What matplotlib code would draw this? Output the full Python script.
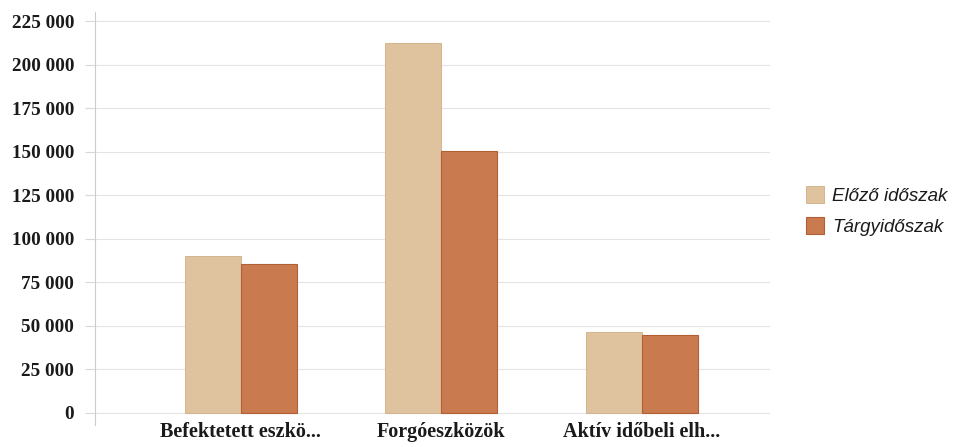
import numpy as np
import matplotlib
matplotlib.use("Agg")
import matplotlib.pyplot as plt
from matplotlib.ticker import FuncFormatter

categories = ["Befektetett eszkö...", "Forgóeszközök", "Aktív időbeli elh..."]
series_names = ["Előző időszak", "Tárgyidőszak"]
elozo = [90000, 212500, 46500]
targy = [85500, 150500, 45000]
yticks = [0, 25000, 50000, 75000, 100000, 125000, 150000, 175000, 200000, 225000]

light = "#dfc39e"
dark = "#c97b4f"

fig = plt.figure(figsize=(9.56, 4.47), dpi=100)
ax = fig.add_axes([95 / 956, 1 - 425 / 447, 675 / 956, 413 / 447])

x = np.arange(len(categories))
w = 0.28
ax.bar(x - w / 2, elozo, w, color=light, edgecolor="#cfae86", linewidth=0.6,
       label=series_names[0], zorder=3)
ax.bar(x + w / 2, targy, w, color=dark, edgecolor="#b25f34", linewidth=0.8,
       label=series_names[1], zorder=3)

ax.set_xlim(-0.728, 2.64)
ax.set_ylim(-6900, 230200)
ax.set_yticks(yticks)
ax.yaxis.set_major_formatter(FuncFormatter(lambda v, p: f"{int(v):,}".replace(",", " ")))
ax.set_xticks(x)
ax.set_xticklabels(categories)

for t in ax.get_yticklabels():
    t.set_fontfamily("Liberation Serif")
    t.set_fontweight("bold")
    t.set_fontsize(13.8)
    t.set_color("#1a1a1a")
for t in ax.get_xticklabels():
    t.set_fontfamily("Liberation Serif")
    t.set_fontweight("bold")
    t.set_fontsize(14.5)
    t.set_color("#1a1a1a")

ax.grid(axis="y", color="#e4e4e4", linewidth=0.8, zorder=0)
ax.tick_params(axis="y", length=7, color="#d8d8d8", pad=8)
ax.tick_params(axis="x", length=0, pad=-2)
for s in ["top", "right", "bottom"]:
    ax.spines[s].set_visible(False)
ax.spines["left"].set_color("#cccccc")

leg = fig.legend(loc="upper left", bbox_to_anchor=(789 / 956, 1 - 169 / 447),
                 frameon=False, handlelength=0.95, handleheight=1.0,
                 handletextpad=0.45, labelspacing=0.65, borderpad=0.4,
                 prop={"family": "Liberation Sans", "style": "italic", "size": 13.5})
for t in leg.get_texts():
    t.set_color("#1a1a1a")

fig.savefig("out.png", dpi=100, facecolor="white")
